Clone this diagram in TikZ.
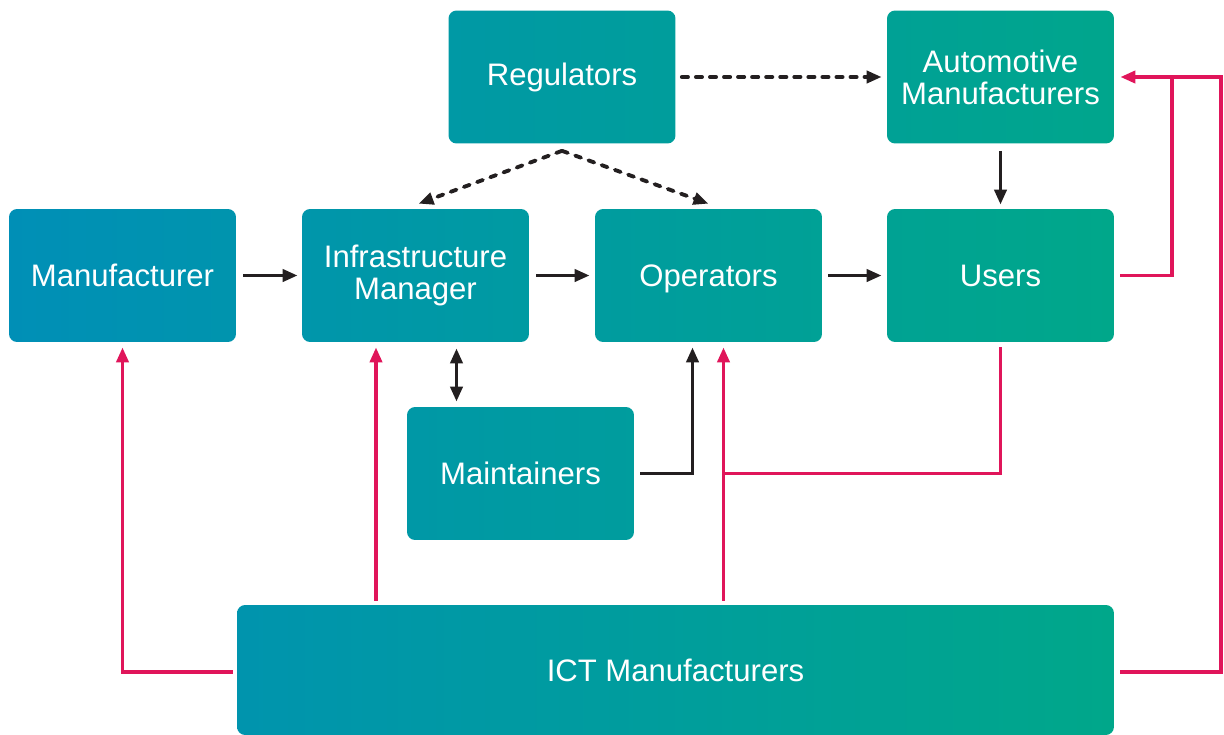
\documentclass[tikz,border=0pt]{standalone}
\usepackage{fontspec}
\setmainfont{Liberation Sans}
\usetikzlibrary{arrows.meta,calc}
\definecolor{cA}{HTML}{008FB7}
\definecolor{cB}{HTML}{00A78A}
\definecolor{pk}{HTML}{E0155A}
\definecolor{ink}{HTML}{231F20}
\begin{document}
\begin{tikzpicture}[x=0.02cm,y=-0.02cm,
  box/.style={rounded corners=0.16cm, minimum width=4.54cm, minimum height=2.66cm,
    text=white, align=center, inner sep=0pt, font=\fontsize{17.7}{18.2}\selectfont},
  tip/.style={-{Triangle[length=0.3cm,width=0.24cm]}},
  arr/.style={draw=ink, line width=2.2pt, tip},
  darr/.style={draw=ink, line width=2.2pt, {Triangle[length=0.3cm,width=0.24cm]}-{Triangle[length=0.3cm,width=0.24cm]}},
  dsh/.style={draw=ink, line width=2.2pt, line cap=round, dash pattern=on 3.5pt off 4.5pt, tip},
  pline/.style={draw=pk, line width=2.2pt},
  parr/.style={pline, tip}
]
\useasboundingbox (0,0) rectangle (1224,734);
\clip (0,0) rectangle (1224,734);

\node[box, left color=cB!1!cA,  right color=cB!21!cA]  (man)   at (122.5,275.5) {Manufacturer};
\node[box, left color=cB!27!cA, right color=cB!47!cA]  (im)    at (415.5,275.5) {Infrastructure\\Manager};
\node[box, left color=cB!53!cA, right color=cB!74!cA]  (ops)   at (708.5,275.5) {\raisebox{0pt}[\height][0pt]{Operators}};
\node[box, left color=cB!80!cA, right color=cB!100!cA] (users) at (1000.5,275.5) {Users};
\node[box, left color=cB!40!cA, right color=cB!61!cA]  (reg)   at (562,77) {Regulators};
\node[box, left color=cB!75!cA, right color=cB!95!cA]  (auto)  at (1000.5,77) {Automotive\\Manufacturers};
\node[box, left color=cB!37!cA, right color=cB!57!cA]  (maint) at (520.5,473.5) {Maintainers};
\node[box, minimum width=17.54cm, minimum height=2.6cm,
      left color=cB!21!cA, right color=cB!100!cA]      (ict)   at (675.5,670) {ICT Manufacturers};

% black arrows
\draw[arr] ($(man.east)+(7,0)$) -- ($(im.west)+(-4,0)$);
\draw[arr] ($(im.east)+(7,0)$) -- ($(ops.west)+(-5,0)$);
\draw[arr] ($(ops.east)+(6,0)$) -- ($(users.west)+(-5,0)$);
\draw[arr] ($(auto.south)+(0,7)$) -- ($(users.north)+(0,-4)$);
\draw[darr] ($(im.south)+(41,6)$) -- ($(maint.north)+(-64,-5)$);
\draw[arr] ($(maint.east)+(6,0)$) -| ($(ops.south)+(-16,5)$);

% dashed arrows
\draw[dsh] ($(reg.south)+(0,7)$) -- ($(im.north)+(3,-5)$);
\draw[dsh] ($(reg.south)+(0,7)$) -- ($(ops.north)+(0,-5)$);
\draw[dsh] ($(reg.east)+(6,0)$) -- ($(auto.west)+(-5,0)$);

% pink connectors
\draw[parr] ($(ict.west)+(-4,2)$) -| ($(man.south)+(0,5)$);
\coordinate (pim) at ($(im.south)+(-39.5,5)$);
\draw[parr] ($(ict.north -| pim)+(0,-4)$) -- (pim);
\coordinate (pop) at ($(ops.south)+(15,5)$);
\draw[parr] ($(ict.north -| pop)+(0,-4)$) -- (pop);
\draw[pline] ($(users.south)+(0,5)$) |- (pop |- maint.east);
\draw[parr] ($(users.east)+(6,0)$) -- ++(52,0) |- ($(auto.east)+(6,0)$);
\draw[pline] ($(ict.east)+(6,2)$) -| ($(auto.east)+(107,0)$) -- ($(auto.east)+(58,0)$);
\end{tikzpicture}
\end{document}
